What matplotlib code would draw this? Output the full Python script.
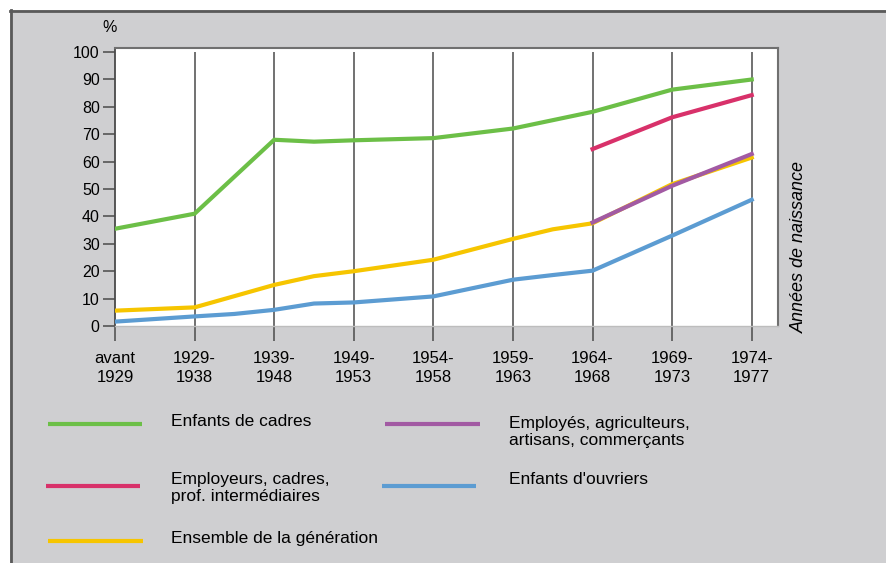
import matplotlib
matplotlib.use('Agg')
from matplotlib import pyplot as plt
from matplotlib.lines import Line2D
from matplotlib.patches import Rectangle

# Catégories (années de naissance)
categories = ['avant\n1929', '1929-\n1938', '1939-\n1948', '1949-\n1953', '1954-\n1958',
              '1959-\n1963', '1964-\n1968', '1969-\n1973', '1974-\n1977']
y_ticks = [0, 10, 20, 30, 40, 50, 60, 70, 80, 90, 100]

# Séries (positions sur l'axe des catégories, valeurs en %)
pos_cadres = [0, 1, 2, 2.5, 3, 4, 5, 6, 7, 8]
enfants_cadres = [35.5, 41, 68, 67.3, 67.8, 68.6, 72.1, 78.2, 86.3, 90]

pos_employeurs = [6, 7, 8]
employeurs = [64.6, 76.2, 84.3]

pos_ensemble = [0, 1, 2, 2.5, 3, 4, 5, 5.5, 6, 7, 8]
ensemble = [5.6, 6.8, 15, 18.2, 20, 24.2, 31.8, 35.3, 37.5, 51.8, 61.5]

pos_employes = [6, 7, 8]
employes = [37.8, 51.2, 62.8]

pos_ouvriers = [0, 1, 1.5, 2, 2.5, 3, 4, 5, 5.5, 6, 7, 8]
ouvriers = [1.6, 3.5, 4.4, 5.9, 8.2, 8.6, 10.8, 16.9, 18.6, 20.2, 33, 46.1]

GREEN = '#6cbf47'
RED = '#d8316a'
YELLOW = '#f6c500'
PURPLE = '#a25aa3'
BLUE = '#5c9cd2'
BG = '#cfcfd1'
DARK = '#4a4a4a'

W, H = 887, 563
plt.rcParams['font.family'] = ['Liberation Sans', 'DejaVu Sans']


def fx(px):
    return px / W


def fy(py):
    return 1 - py / H


fig = plt.figure(figsize=(W / 100, H / 100), dpi=100)
fig.patch.set_facecolor('white')

# fond gris avec bord supérieur et gauche
fig.add_artist(Rectangle((fx(10), 0), 1 - fx(10), fy(10), transform=fig.transFigure,
                         facecolor=BG, edgecolor='none', zorder=0))
fig.add_artist(Line2D([fx(10), 1], [fy(11), fy(11)], transform=fig.transFigure, color='#5a5a5a', lw=2))
fig.add_artist(Line2D([fx(11), fx(11)], [0, fy(10)], transform=fig.transFigure, color='#5a5a5a', lw=2))

ax = fig.add_axes([fx(115), fy(326), fx(778) - fx(115), (326 - 48) / H])
ax.set_facecolor('white')
ax.set_xlim(0, 8.33)
ax.set_ylim(0, 101.5)

ax.vlines(range(1, len(categories)), 0, 100, color=DARK, lw=1.1, zorder=1)

lw = 3
ax.plot(pos_cadres, enfants_cadres, color=GREEN, lw=lw, zorder=3)
ax.plot(pos_employeurs, employeurs, color=RED, lw=lw, zorder=3)
ax.plot(pos_ensemble, ensemble, color=YELLOW, lw=lw, zorder=3)
ax.plot(pos_employes, employes, color=PURPLE, lw=lw, zorder=4)
ax.plot(pos_ouvriers, ouvriers, color=BLUE, lw=lw, zorder=3)

ax.set_xticks(range(len(categories)))
ax.set_xticklabels(categories, fontsize=12, linespacing=1.3)
ax.set_yticks(y_ticks)
ax.set_yticklabels([str(v) for v in y_ticks], fontsize=11.5)
ax.tick_params(axis='x', direction='out', length=11, width=1.1, color=DARK, pad=7)
ax.tick_params(axis='y', direction='out', length=9, width=1.1, color=DARK, pad=2)

ax.spines['left'].set_color(DARK)
ax.spines['left'].set_linewidth(1.3)
ax.spines['top'].set_color('#707070')
ax.spines['top'].set_linewidth(1.5)
ax.spines['right'].set_color('#707070')
ax.spines['right'].set_linewidth(1.5)
ax.spines['bottom'].set_color('#bdbdbd')
ax.spines['bottom'].set_linewidth(1)

fig.text(fx(110), fy(28), '%', fontsize=11.5, ha='center', va='center')
fig.text(fx(799), fy(333), 'Années de naissance', fontsize=13, style='italic',
         rotation=90, ha='center', va='bottom')

# légende
legend_items = [
    (48, 142, 424, GREEN, 171, 422, 'Enfants de cadres'),
    (46, 140, 486, RED, 171, 488, 'Employeurs, cadres,\nprof. intermédiaires'),
    (48, 143, 541, YELLOW, 171, 538, 'Ensemble de la génération'),
    (385, 480, 424, PURPLE, 509, 432, 'Employés, agriculteurs,\nartisans, commerçants'),
    (382, 476, 486, BLUE, 509, 479, "Enfants d'ouvriers"),
]
for x0, x1, ly, col, tx, ty, label in legend_items:
    fig.add_artist(Line2D([fx(x0), fx(x1)], [fy(ly), fy(ly)], transform=fig.transFigure,
                          color=col, lw=lw, solid_capstyle='butt'))
    fig.text(fx(tx), fy(ty), label, fontsize=12.5, ha='left', va='center', linespacing=1.15)

fig.savefig('out.png', dpi=100, facecolor=fig.get_facecolor())
